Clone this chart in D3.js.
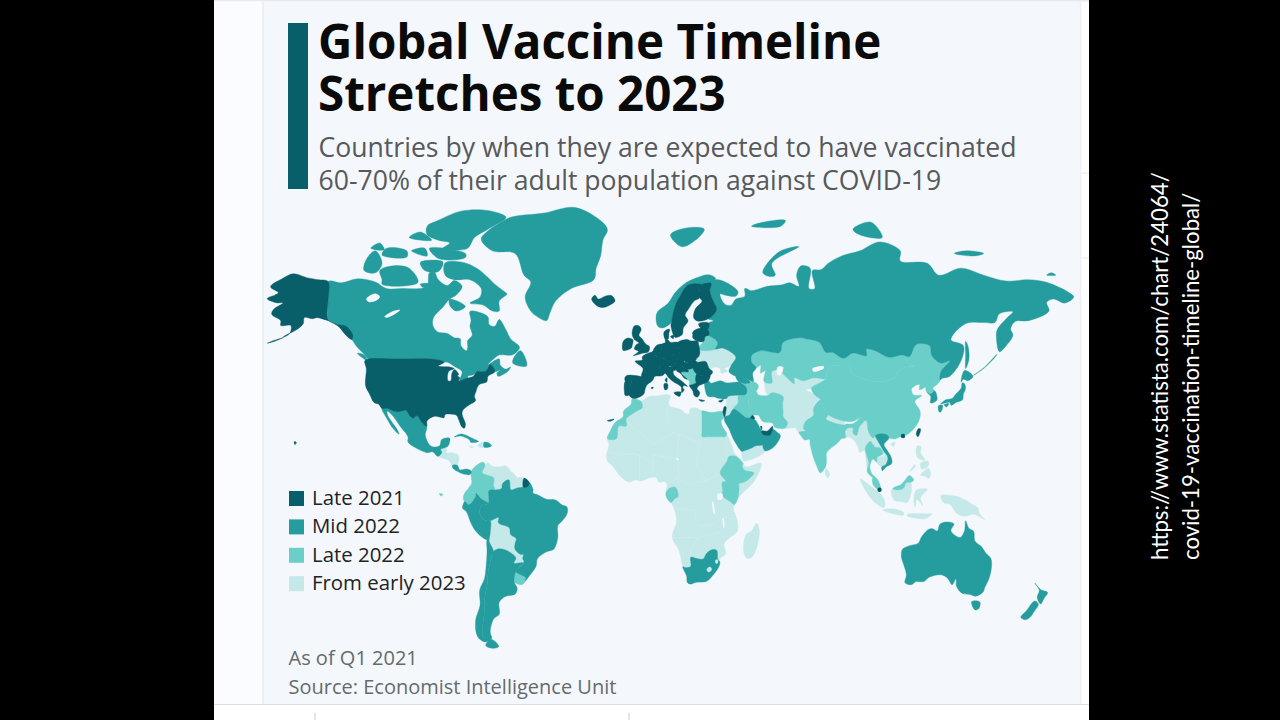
<!DOCTYPE html>
<html>
<head>
<meta charset="utf-8">
<script src="https://cdnjs.cloudflare.com/ajax/libs/d3/7.8.5/d3.min.js"></script>
<style>
  html, body { margin: 0; padding: 0; background: #000; }
  svg { display: block; }
  text { font-family: "Open Sans", sans-serif; }
</style>
</head>
<body>
<div id="chart"></div>
<script>
// legend
var legendLabels = ['Late 2021', 'Mid 2022', 'Late 2022', 'From early 2023'];
var legendColors = ['#085e69', '#259d9e', '#6bcfc9', '#c5e8e8'];

// outlines are [lon, lat]
// North America
var alaska = [[-141,69.6],[-145,70],[-150,70.4],[-156.5,71.3],[-161,70.3],[-166.5,68.4],[-163,67],[-164.5,66.5],[-168,65.6],[-164,64.6],[-161,64.5],[-165,63],[-166,61.7],[-162,60],[-162,58.7],[-157.5,58.7],[-158,56.5],[-161,55.4],[-160,55.9],[-155,57.5],[-152,59.2],[-151.5,60.8],[-148,60.5],[-146,60.8],[-141,60],[-139,59.5],[-136,58.3],[-133,56],[-130.5,54.8],[-130,56],[-133,58.5],[-137,59],[-141,60.3],[-141,65]];
var aleutians = [[-161,55.3],[-165,54.5],[-168,53.7],[-165,54.2]];
var hawaii = [[-156,20.2],[-155,19.8],[-155.7,19],[-156,19.7]];
var usa = [[-123,49],[-110,49],[-95,49],[-89.5,48],[-92,46.8],[-87,46.5],[-85,46],[-87.5,45],[-87.7,42],[-86.5,42],[-86,44.5],[-84.8,45.7],[-83,44],[-83.5,43.7],[-82.5,43],[-83,42],[-79,42.9],[-76.5,43.5],[-75,45],[-71,45.2],[-69,47.3],[-67,45],[-70,43.5],[-70.5,41.7],[-74,40.7],[-75.5,38],[-76,36.8],[-75.5,35.2],[-78,33.9],[-81,32],[-81.5,30.5],[-80,26.8],[-80.5,25.2],[-81.8,26],[-82.8,28],[-84,30],[-86,30.4],[-89,30.3],[-89.5,29.1],[-91,29.3],[-94,29.6],[-97,28],[-97.2,26],[-99.5,27.5],[-101.5,29.8],[-103,29],[-104.5,29.6],[-106.5,31.8],[-108.2,31.5],[-111,31.3],[-114.8,32.5],[-117.1,32.5],[-118.5,34],[-120.6,34.6],[-122.5,37.5],[-124.3,40.3],[-124,46],[-124.7,48.4]];
var canada = [[-141,69.6],[-135,69.3],[-128,70.2],[-120,69.5],[-115,68],[-108,68],[-100,68],[-97,68.5],[-96,71.5],[-94,71.8],[-92,70],[-88,68.7],[-85,69.8],[-81.5,68.5],[-84,66.5],[-87,65.5],[-90,63.5],[-94,61],[-94.5,58.8],[-92.5,57],[-88,56.5],[-85,55.3],[-82.3,55],[-82,53],[-79.5,51.5],[-79,52.5],[-79,54.5],[-77,56],[-78,58.5],[-77.5,60],[-78,62.4],[-74,62.2],[-70,61],[-69.5,59],[-67,58.5],[-65,60.3],[-62,57.5],[-60,55],[-56,52.5],[-59,50.3],[-65,50.2],[-67,49.3],[-70,47.2],[-65,49],[-64.5,47],[-62,45.8],[-60,46.5],[-61,45.2],[-65.5,43.5],[-66,44.5],[-64.5,45.5],[-67,45],[-69,47.3],[-71,45.2],[-75,45],[-76.5,44],[-79,43.5],[-79,42.9],[-82.5,42],[-81.5,45],[-84.5,46.5],[-88,48],[-89.5,48],[-95,49],[-110,49],[-123,49],[-125,50.5],[-128,52.5],[-130.5,54.8],[-133,56],[-136,58.3],[-139,59.5],[-141,60.3],[-141,65]];
var baffin = [[-61.5,66.7],[-65,65],[-65,62.5],[-68,62.5],[-72,64],[-78,64.5],[-73.5,66],[-73,68],[-78,70],[-85,70],[-89,71],[-89,73.6],[-81,73.7],[-75,72.5],[-70,70.5],[-67,69],[-62,67]];
var victoriaIsland = [[-117,69],[-105,68.7],[-101,69.5],[-105,72.5],[-112,73],[-118,72],[-117,70]];
var banks = [[-125,72],[-120,71.5],[-117,73.5],[-120,76],[-124,74.3]];
var ellesmere = [[-90,76.5],[-80,76.3],[-78,77],[-76,78.5],[-70,80],[-62,82],[-70,83.1],[-82,83],[-92,81.5],[-97,80.5],[-97,79],[-92,78],[-87,77.5]];
var devon = [[-96,76.5],[-80,75.5],[-80,74.7],[-92,74.5]];
var axelHeiberg = [[-96,80.2],[-88,79.5],[-88,78],[-93,78.5]];
var melville = [[-117,75.2],[-106,74.8],[-106,76],[-115,76.5]];
var somerset = [[-100,73.7],[-90,73.8],[-92,71.8],[-98,72]];
var bathurst = [[-104,76],[-97,75],[-98,76.5]];
var princePatrick = [[-122,76.5],[-116,76.2],[-118,77.5]];
var ringnes = [[-105,78.5],[-95,78],[-100,79.5]];
var kingWilliam = [[-100,69],[-95.5,69],[-96,68.2],[-99,68.3]];
var southampton = [[-87,65.5],[-80,63.7],[-84,62.5],[-87,64]];
var newfoundland = [[-59,47.7],[-53,46.7],[-52.8,48],[-55.5,51.5],[-57.5,50.5]];
var vancouver = [[-128,50.7],[-123.5,48.4],[-125,50.3]];
var greenland = [[-73,78.2],[-68,76],[-58,75.5],[-54,71],[-51,69.5],[-53.5,66],[-51,62.5],[-48,61],[-44,60],[-42.5,62],[-40,65],[-33,68],[-23,70],[-22,72.5],[-20,75],[-19,78],[-17,80],[-22,82],[-32,83.6],[-45,82.7],[-60,82],[-65,81],[-70,79.7]];
var iceland = [[-24,65.5],[-22,64],[-19,63.4],[-15,64.3],[-13.6,65],[-15,66.3],[-18,66.2],[-21,65.5],[-22.5,66.4]];
var mexico = [[-117.1,32.5],[-114.8,32.5],[-111,31.3],[-108.2,31.5],[-106.5,31.8],[-104.5,29.6],[-103,29],[-101.5,29.8],[-99.5,27.5],[-97.2,26],[-97.8,22.5],[-96,19],[-94.5,18.2],[-91.5,18.6],[-90.5,21],[-87,21.5],[-87.7,18.5],[-89,17.9],[-91,17.2],[-90.5,16],[-92.2,14.5],[-94.5,16.2],[-97,15.9],[-101.5,17.5],[-105.5,20],[-105.5,22],[-109,26],[-112.5,30],[-114.7,31.5],[-114.5,30],[-110,24.3],[-109.5,23],[-112,25],[-115,29]];
var centralNorth = [[-92.2,14.5],[-90.5,16],[-91,17.2],[-89,17.9],[-88.2,17],[-88.5,15.9],[-86,15.9],[-83.2,15],[-83.6,11],[-85.7,11],[-87.5,13],[-90,13.7]];
var costaPanama = [[-83.6,11],[-82.5,9.2],[-79.5,9.5],[-77.3,8.6],[-78,7.3],[-80.3,7.4],[-82.8,8.2],[-85.7,10],[-85.7,11]];
var cuba = [[-85,21.9],[-82,23.1],[-77,21.5],[-74.2,20.2],[-77.7,19.9],[-78,20.7],[-82,22.3]];
var haiti = [[-74.4,18.4],[-71.7,18],[-71.7,19.9],[-73,19.9]];
var dominicanRep = [[-71.7,18],[-68.4,18.5],[-70,19.8],[-71.7,19.9]];
var jamaica = [[-78.3,18.4],[-76.3,18.2],[-77.3,17.8]];

// South America
var colombia = [[-77.3,8.6],[-75.5,10.7],[-72,12.2],[-71.3,11],[-72.5,8],[-70,7],[-67.5,6.2],[-67.5,3],[-67,1.2],[-69.5,1],[-69.9,-4.2],[-72.9,-2.4],[-75,-0.1],[-77.5,0.4],[-78.8,1.4],[-77.2,4],[-77.5,7]];
var ecuador = [[-78.8,1.4],[-77.5,0.4],[-75.2,-0.1],[-75.5,-1.5],[-78.5,-4.7],[-80.3,-3.4],[-81,-2.2],[-80,0.5]];
var galapagos = [[-91.6,-0.3],[-90,-0.5],[-90.8,-1.2]];
var venezuela = [[-71.3,11],[-70,12],[-68,10.6],[-64,10.5],[-62,10.7],[-60,8.5],[-60.7,5.2],[-63.5,3.8],[-64,1.8],[-67,1.2],[-67.5,3],[-67.5,6.2],[-70,7],[-72.5,8]];
var guyana = [[-60,8.5],[-57.2,6],[-58,4],[-57,2],[-59.8,1.3],[-60.7,5.2]];
var suriname = [[-57.2,6],[-54,5.9],[-54.3,2.3],[-57,2],[-58,4]];
var frenchGuiana = [[-54,5.9],[-51.7,4.2],[-52.8,2.3],[-54.3,2.3]];
var brazil = [[-51.7,4.2],[-50,1.5],[-50,0],[-48,-0.7],[-44,-2.5],[-40,-2.8],[-37,-4.8],[-35,-5.5],[-34.8,-8],[-37,-11],[-39,-13],[-39,-17.5],[-40.8,-22],[-44,-23],[-48,-25.5],[-48.7,-28.5],[-52,-32.3],[-53.4,-33.7],[-53.3,-32.5],[-57.6,-30.2],[-54,-27],[-54.6,-25.5],[-54.3,-24],[-55.5,-24],[-58,-22],[-58,-20],[-57.5,-18],[-60,-16.3],[-60.5,-13.8],[-65.4,-11.8],[-65.3,-9.8],[-69,-11],[-70.6,-11],[-73,-9.4],[-73.7,-7.3],[-72.9,-5.2],[-69.9,-4.2],[-69.5,1],[-67,1.2],[-64,1.8],[-63.5,3.8],[-60.7,5.2],[-59.8,1.3],[-57,2],[-54.3,2.3],[-52.8,2.3]];
var peru = [[-81,-4.5],[-80.3,-3.4],[-78.5,-4.7],[-75.5,-1.5],[-75.2,-0.1],[-72.9,-2.4],[-69.9,-4.2],[-72.9,-5.2],[-73.7,-7.3],[-73,-9.4],[-70.6,-11],[-69,-11],[-69,-15.5],[-69.4,-17.5],[-70.4,-18.4],[-75,-15.5],[-77.5,-12],[-79.5,-7.5],[-81.3,-6]];
var bolivia = [[-69,-11],[-65.3,-9.8],[-65.4,-11.8],[-60.5,-13.8],[-60,-16.3],[-57.5,-18],[-58,-20],[-62.5,-22.2],[-66,-22],[-67.5,-22.9],[-69.5,-19],[-69.4,-17.5],[-69,-15.5]];
var paraguay = [[-58,-20],[-58,-22],[-55.5,-24],[-54.3,-24],[-54.6,-25.5],[-54.8,-27],[-58.5,-27.2],[-57.6,-25.3],[-62.5,-22.2]];
var argentina = [[-66,-22],[-62.5,-22.2],[-57.6,-25.3],[-58.5,-27.2],[-54.8,-27],[-54,-27],[-57.6,-30.2],[-58.4,-34],[-57,-36.3],[-58,-38.3],[-62,-39],[-65,-41],[-65,-45],[-67.5,-46.5],[-69,-50.5],[-68.4,-52.4],[-72,-52],[-72.5,-50],[-71.7,-45],[-71.5,-40],[-70.5,-36],[-70,-31],[-69,-27],[-68.3,-24.5],[-67.5,-22.9]];
var chile = [[-70.4,-18.4],[-69.4,-17.5],[-69.5,-19],[-67.5,-22.9],[-68.3,-24.5],[-69,-27],[-70,-31],[-70.5,-36],[-71.5,-40],[-71.7,-45],[-72.5,-50],[-72,-52],[-68.4,-52.4],[-71,-53.5],[-74.5,-52],[-75.5,-47],[-73.5,-42],[-73.7,-37],[-71.6,-33],[-71,-30],[-70.4,-23]];
var tierraDelFuego = [[-68.6,-52.7],[-65.2,-54.8],[-68,-55.3],[-71,-54.5]];
var uruguay = [[-57.6,-30.2],[-53.3,-32.5],[-53.4,-33.7],[-55,-35],[-58.4,-34]];

// Europe
var portugal = [[-9,41.9],[-6.5,41.9],[-7,39.5],[-7.4,37.2],[-9,37],[-9.5,38.8]];
var spain = [[-9.2,43.1],[-8,43.8],[-1.8,43.4],[3.2,42.4],[0.5,40.5],[-0.3,39],[-0.7,37.7],[-2,36.8],[-5.5,36],[-7.4,37.2],[-7,39.5],[-6.5,41.9],[-9,41.9]];
var balearics = [[2.3,39.6],[3.4,39.9],[3,39.3]];
var canaries = [[-17,28],[-14,28.6],[-15.8,27.8]];
var france = [[-1.8,43.4],[-1.2,46],[-4.7,48.3],[-1.5,48.7],[-1.5,49.7],[1.6,50.9],[2.6,51],[4.2,50],[6,49.5],[8.2,49],[7.6,47.6],[6,46.3],[7,45.8],[7.5,43.8],[4,43.4],[3.2,42.4]];
var belgium = [[2.6,51],[3.4,51.4],[6,51],[6,49.5],[4.2,50]];
var netherlands = [[3.4,51.4],[4.7,53],[7,53.4],[7,52],[6,51]];
var germany = [[6,51],[7,52],[7,53.4],[8.7,53.9],[8.7,54.9],[10,54.6],[11,54],[14.2,53.9],[14.7,52],[15,51],[12.2,50.3],[13.8,48.7],[13,47.5],[10,47.4],[7.6,47.6],[8.2,49],[6,49.5]];
var denmark = [[8.2,55.5],[8.2,57],[10.6,57.7],[10.3,56.5],[10,54.9],[8.7,54.9]];
var zealand = [[11,55.7],[12.5,56],[12.2,55]];
var switzerland = [[6,46.3],[7.6,47.6],[10,47.4],[10.4,46.5],[7,45.8]];
var austria = [[10,47.4],[13,47.5],[13.8,48.7],[17,48.7],[16.3,46.9],[13.5,46.5],[10.4,46.9]];
var italy = [[7,45.8],[10.4,46.5],[13.5,46.5],[13.7,45.6],[12.3,45.2],[12.5,44],[16,41.9],[18.5,40.1],[17,40.4],[16.5,39.7],[17.1,39],[16,38],[15.7,40],[12.3,41.7],[10.2,43],[8.7,44.4],[7.5,43.8]];
var sicily = [[12.5,38],[15.6,38.2],[15.1,36.7]];
var sardinia = [[8.2,41],[9.7,41],[9.6,39.2],[8.5,39]];
var corsica = [[8.6,42.3],[9.4,43],[9.4,41.5]];
var cyprus = [[32.3,35],[34.5,35.6],[33.5,34.7]];
var uk = [[-5,58.6],[-3,58.6],[-2,57.6],[-3,56],[-1.6,55],[0,53.5],[1.7,52.7],[1.2,51.2],[-1.5,50.7],[-5.5,50],[-3.2,51.3],[-5,52],[-4.2,53.3],[-3,53.8],[-5,54.8],[-6,56.3]];
var ireland = [[-10,54.2],[-8,55.2],[-5.7,54.7],[-6,53],[-6.5,52.2],[-10,51.6]];
var norway = [[5,59],[5,62],[10,64.5],[13,67],[17,69],[22,70.3],[28,71.1],[31,70.3],[29,69.2],[25,69],[21,69],[18,68.5],[15,66],[13.5,64.5],[12,61.5],[11.5,59.5],[10.5,59],[8,58.1],[6,58.2]];
var svalbard = [[11,79],[16,76.8],[22,78],[26,80],[18,80.2]];
var sweden = [[11.5,59.5],[12,61.5],[13.5,64.5],[15,66],[18,68.5],[21,69],[23.7,67.8],[24,65.8],[21.5,65],[19,63],[17.5,61.5],[18.8,60],[16.7,58],[16.3,56.3],[14.3,55.5],[13,55.4],[11.2,58.7]];
var finland = [[21,69],[25,69],[29,69.2],[28.5,67.5],[30,65],[31.5,62.9],[27.8,60.5],[23,59.9],[21.3,60.8],[22,63],[25,65],[24,65.8],[23.7,67.8]];
var estonia = [[23.5,59.2],[28,59.4],[27.5,57.6],[24.5,58]];
var latvia = [[21,57],[24.5,58],[27.5,57.6],[28,56.1],[21,56.1]];
var lithuania = [[21,56.1],[28,56.1],[26.5,55.7],[25.7,54.2],[23,54.3],[21,55.2]];
var poland = [[14.2,53.9],[18.5,54.8],[19.8,54.4],[23,54.3],[23.7,52.6],[24,50.5],[22.7,49.2],[19,49.4],[15,51],[14.7,52]];
var czechia = [[12.2,50.3],[15,51],[19,49.6],[17,48.7],[13.8,48.7]];
var slovakia = [[17,48.7],[19,49.5],[22.5,49.1],[22,48.4],[18.7,47.8]];
var hungary = [[16.3,46.9],[17,48],[18.7,47.8],[22,48.4],[21,46.2],[18.5,45.8],[16.6,46.4]];
var croatia = [[13.5,46.5],[16.3,46.9],[16.6,46.4],[18.5,45.8],[19,45],[15.8,44.8],[17,43],[18.5,42.5],[15,44.6],[13.7,45.2],[13.7,45.6]];
var balkans = [[15.8,44.8],[19,45],[18.5,45.8],[21,46.2],[22.7,44.2],[22.5,41.3],[21,40.8],[19.4,40.4],[19.4,41.8],[18.5,42.5],[17,43]];
var romania = [[21,46.2],[22,48.4],[23,48],[26.6,48.2],[28.2,46],[29.7,45],[28.6,43.8],[25,43.7],[22.7,44.2]];
var bulgaria = [[22.7,44.2],[25,43.7],[28.6,43.8],[27.8,42],[26.3,41.3],[22.5,41.3]];
var greece = [[19.4,40.4],[21,40.8],[22.5,41.3],[26.3,41.3],[23.5,40.3],[22.8,39.3],[24,38],[23,36.5],[21.5,37],[21,38.5]];
var crete = [[23.6,35.6],[26.2,35.2],[24.5,35]];
var moldova = [[26.6,48.2],[29,47.5],[30,46.4],[28.2,46]];
var ukraine = [[24,50.5],[24,51.8],[31,52],[34,52.3],[40,49.6],[38,47],[35,46],[36.5,45.3],[33.5,44.5],[33,46],[30.7,46.5],[30,46.4],[29,47.5],[26.6,48.2],[23,48],[22.5,49.1],[22.7,49.2]];
var belarus = [[23.7,52.6],[25.7,54.2],[26.5,55.7],[28,56.1],[31,54.8],[32,53.5],[31,52],[24,51.8]];

// Russia runs past 180 so Chukotka stays in one piece
var russia = [[29,69.2],[31,70],[36,69.3],[41,67.2],[40,66.2],[35,66.5],[33,66.7],[35,64.3],[38,64],[40,65.5],[44,66.2],[44,68],[47,67.5],[54,68.5],[60,68.8],[64,69.3],[68,68.5],[67,71],[69,73],[73,72.5],[72.5,68],[75,68],[74,72],[78,72.2],[81,73.5],[87,75],[95,76],[104,77.7],[113,76],[113,74],[125,73.5],[130,71],[140,72.5],[150,71],[160,69.7],[170,70],[178,69.4],[188,67],[190,66],[186,64.5],[181,65.5],[178,64.7],[179,62.5],[170,60],[164,59.8],[162,57.8],[163,56],[160,53],[157,51.2],[155.7,55],[156,57.5],[160,60.5],[163,62.3],[157,61.8],[155,59.5],[150,59.5],[142,59.2],[135.5,54.7],[141,53],[140,48.5],[135,43.5],[131.5,42.8],[130.7,42.3],[131,45],[135,48.4],[131,47.7],[127,50],[126,53],[120,53.3],[117,49.7],[114,50.2],[108,49.5],[102.5,51.3],[98,52],[98,50],[92,50.8],[87.8,49.2],[83,51],[80,51],[77,54],[71,55],[69,55.3],[61,54],[59.5,51],[51,51.5],[47,50],[47,48],[49,46.2],[47.5,44.5],[47.7,41.8],[44.7,42.7],[40,43.5],[37,45],[38,47],[40,49.6],[34,52.3],[31,52],[32,53.5],[31,54.8],[28,56.1],[27.5,57.6],[28,59.4],[30,60],[27.8,60.5],[31.5,62.9],[30,65],[28.5,67.5]];
var sakhalin = [[142,54.3],[143,53],[143.5,49],[142,46],[142,50]];
var kurils = [[145.5,43.8],[150,46],[155,49.5],[156,50.5],[150.5,46.5]];
var novayaZemlya = [[52,71.5],[55,70.7],[57.5,71],[56,73.5],[68,76.8],[60,76],[54,73.5]];
var franzJosef = [[47,80.5],[60,80.5],[62,81.5],[50,81]];
var severnaya = [[95,79],[105,78.5],[100,81.2],[92,80]];
var newSiberian = [[137,75.5],[146,75],[150,75.5],[142,76]];
var wrangel = [[178,71],[182,71],[180,71.5]];

// Middle East and Asia
var turkey = [[26.3,41.3],[27.8,42],[29,41.2],[33,42],[36,41.3],[41.5,41.5],[44.7,39.7],[44.5,37.5],[42,37.2],[36.5,36.7],[36,36],[32.5,36],[30.5,36.5],[27.5,36.8],[26.3,39.5]];
var georgia = [[40,43.5],[44.7,42.7],[46.5,41.5],[43.5,41.1],[41.5,41.5]];
var azerbaijan = [[43.5,41.1],[46.5,41.5],[47.7,41.8],[50,40.5],[49,38.5],[46,38.9],[44.7,39.7]];
var kazakhstan = [[47,50],[51,51.5],[59.5,51],[61,54],[69,55.3],[71,55],[77,54],[80,51],[83,51],[87.3,49],[85.5,47],[83,47],[80.5,45],[80,42.8],[74.5,43],[70,42],[66,43],[66,41],[62,43.5],[58.6,45.5],[56,45],[56,41.3],[52.5,41.8],[53,45.3],[51,44.5],[51,47],[49,46.2],[47,48]];
var centralAsia = [[53,42],[56,41.3],[56,45],[58.6,45.5],[62,43.5],[66,41],[66,43],[70,42],[74.5,43],[80,42.8],[74,40],[73.5,39.4],[71,39],[74.9,37.3],[71.5,36.4],[61,36.6],[56,38],[54,37.3]];
var afghanistan = [[61,36.6],[71.5,36.4],[74.9,37.3],[71,34],[69.5,31.5],[66,29.5],[61,29.6],[61,31.4],[60.8,34.3]];
var pakistan = [[74.9,37.3],[77.8,35.5],[74.5,32.5],[74.5,30],[71,27.8],[70,25],[71,24.3],[68,23.7],[66.5,25.3],[61.6,25.2],[63,27.2],[61,29.6],[66,29.5],[69.5,31.5],[71,34]];
var iran = [[44.7,39.7],[46,38.9],[49,38.5],[50,37.3],[54,37],[56,38],[61,36.6],[60.8,34.3],[61,31.4],[61,29.6],[63,27.2],[61.6,25.2],[57,25.8],[56.5,27],[52,27.7],[50,30],[48.5,30.2],[46,33],[45.5,36],[44.5,37.5]];
var iraq = [[42,37.2],[44.5,37.5],[45.5,36],[46,33],[48.5,30.2],[47.5,30],[46.5,29],[44.5,29.2],[39,32.2],[41,34.5],[41,36.6]];
var syria = [[36.5,36.7],[42,37.2],[41,36.6],[41,34.5],[39,32.2],[36,32.5],[35.8,35]];
var jordan = [[35.5,32.4],[36,32.5],[39,32.2],[37,30],[35,29.5]];
var israel = [[34.3,31.3],[35,33.2],[35.7,33],[35.5,31],[35,29.5]];
var kuwait = [[46.5,29],[47.5,30],[48.4,28.7]];
var saudi = [[35,29.5],[37,30],[39,32.2],[44.5,29.2],[46.5,29],[48.4,28.5],[50,26.5],[51.2,24.5],[55,22.7],[52,19],[49,18.6],[46.5,17.5],[43.2,16.5],[42.7,16.4],[39,21],[37,25],[35,28]];
var qatar = [[51,26],[51.6,25.9],[51.3,24.6]];
var uae = [[51.5,24.2],[54,24.2],[56.3,26],[56.4,24.9],[56,24],[55.2,22.7],[52,23]];
var oman = [[56,24],[56.4,24.9],[58.5,23.6],[59.8,22.5],[57.8,19],[55,17],[53,16.6],[52,19],[55,22.7]];
var yemen = [[42.7,16.4],[43.2,16.5],[46.5,17.5],[49,18.6],[52,19],[53,16.6],[49,14],[45,12.8],[43.5,12.7]];
var india = [[77.8,35.5],[79,32.5],[81,30.2],[80,28.7],[88,26.4],[89,26.8],[92,26.9],[96,29.3],[97,28],[95,26],[93.5,22.5],[92,23.5],[92,25.2],[89.8,25.3],[88.5,24],[88.7,21.6],[87,21.3],[85,19.5],[80.3,15.8],[80.3,13.3],[79.8,10.3],[77.5,8],[76,10.5],[74.3,14.5],[73,19],[72.7,21],[70.5,20.8],[69,22.3],[68,23.7],[71,24.3],[70,25],[71,27.8],[74.5,30],[74.5,32.5]];
var nepal = [[80,28.7],[81,30.2],[88,27.9],[88,26.4]];
var bangladesh = [[88.5,24],[89.8,25.3],[92,25.2],[92,23.5],[92.3,21],[90,22],[88.7,21.6]];
var sriLanka = [[80,9.7],[81.7,7.5],[80.7,6],[79.8,7.5]];
var china = [[73.5,39.4],[74,40],[80,42.8],[80.5,45],[83,47],[85.5,47],[87.3,49],[91,46.5],[91,45],[96,42.8],[105,41.7],[111.5,43.7],[112,45],[116,46.5],[119.5,46.7],[116,48],[116,49.8],[117,49.7],[120,53.3],[126,53],[127,50],[131,47.7],[135,48.4],[131,45],[130.7,42.3],[128,41.5],[124.4,40],[121.5,39],[121.5,40.8],[118,39.2],[119,37.2],[122.5,37],[119.5,35],[121.8,31.5],[121.5,28.5],[119,25],[116,22.8],[113.5,22.2],[110.5,21.2],[108,21.6],[106.5,23],[102,22.5],[101,21.5],[98.8,24.2],[98,28],[97,28],[96,29.3],[92,27.8],[88,27.9],[81,30.2],[79,32.5],[77.8,35.5],[74.9,37.3]];
var mongolia = [[87.3,49],[92,50.8],[98,50],[98,52],[102.5,51.3],[108,49.5],[114,50.2],[117,49.7],[116,49.8],[116,48],[119.5,46.7],[116,46.5],[112,45],[111.5,43.7],[105,41.7],[96,42.8],[91,45],[91,46.5]];
var hainan = [[108.7,19.3],[110.7,20],[110,18.3]];
var taiwan = [[121,25],[122,25],[120.9,22],[120.1,23]];
var northKorea = [[124.4,40],[128,41.5],[130.7,42.3],[129.7,41],[127.5,39.5],[128.3,38.6],[125,38]];
var southKorea = [[125,38],[126.5,37.7],[128.3,38.6],[129.4,36],[129,35.2],[126.5,34.4],[126.5,36.8]];
var honshu = [[130.9,34],[133,35.5],[136,36],[137.5,37.4],[140,39.5],[140.5,41.3],[141.5,41],[142,39.5],[141,37.5],[140.6,35.5],[138,34.7],[135.5,33.6],[135,34.6],[132.5,34.3]];
var hokkaido = [[140,41.5],[141.5,45.4],[145.3,43.5],[143,42],[141,42.5]];
var kyushu = [[130,33.5],[131.8,33.5],[131,31.2],[130.2,31.3]];
var shikoku = [[132.5,33.8],[134.6,34.2],[133.5,33]];
var vietnam = [[102,22.5],[106.5,23],[108,21.6],[105.8,19],[107,17],[109,14],[109.2,11.7],[106.8,10.4],[105,8.8],[104.8,10.4],[106.5,11.2],[107.5,14],[105.5,16.8],[104,19],[103,20.5]];
var laos = [[101,21.5],[102,22.5],[103,20.5],[104,19],[105.5,16.8],[107.5,14],[106,14.4],[105.3,15.5],[104,17.8],[102,18],[100.5,19.5]];
var cambodia = [[102.5,12.2],[102.7,14],[106,14.4],[107.5,14],[106.5,11.2],[104.8,10.4]];
var thailand = [[97.5,18],[100,20.3],[100.5,19.5],[102,18],[104,17.8],[105.3,15.5],[102.7,14],[102.5,12.2],[100.9,13.4],[99.5,10.5],[100.5,7.5],[102,6.2],[100.8,6.2],[98.3,8.5],[99,12],[98,15]];
var myanmar = [[92.3,21],[92,23.5],[93.5,22.5],[95,26],[97,28],[98,28],[98.8,24.2],[101,21.5],[100,20.3],[97.5,18],[98,15],[99,12],[98.3,10],[97.7,14],[97,16.7],[95,15.9],[94.3,18],[93,20]];
var malaysiaWest = [[100.8,6.2],[102,6.2],[103.5,4.5],[104.2,1.5],[103,1.5],[101,3.2]];
var malaysiaEast = [[109.6,1.7],[111.3,2.7],[113,3.2],[115,5],[117,7],[119,5.2],[117.5,4.2],[115.7,4.2],[114.5,2],[112,1.2]];
var kalimantan = [[109.6,1.7],[112,1.2],[114.5,2],[115.7,4.2],[117.5,4.2],[118,1],[116,-3.8],[114,-3.5],[110.5,-3],[109,0]];
var sumatra = [[95.3,5.6],[98,4],[101,2],[104,0],[106,-3],[105.8,-5.8],[102,-4],[99,-1],[97,2]];
var java = [[105.3,-6.8],[108,-6.3],[111,-6.5],[114.5,-7.8],[114.4,-8.7],[108,-7.8]];
var sulawesi = [[119.5,-5.5],[120.5,-2.7],[123,-5],[122,-2],[125,1.5],[120,1],[119,-3]];
var lesserSunda = [[116,-8.5],[125,-8.2],[127,-8.3],[124,-10.2],[120,-10],[116,-9]];
var papuaWest = [[131,-1],[134,-0.8],[141,-2.6],[141,-9],[138,-8],[135,-4.5],[132.5,-4]];
var papuaNewGuinea = [[141,-2.6],[145,-4.5],[147.5,-6],[148,-8],[150.5,-10.5],[146,-8.5],[143,-9],[141,-9]];
var luzon = [[120.5,18.5],[122.2,18.3],[122,16],[124,13],[121,13.7],[120,16]];
var visayas = [[122,11.8],[125.5,12.5],[125,10.2],[122.5,9.5]];
var mindanao = [[122,7],[125.5,9.7],[126.5,7.5],[125.5,5.8],[124,6.7]];
var palawan = [[117.3,8.5],[119.5,11.3],[119.7,10.5]];

// Oceania
var australia = [[113.7,-22.5],[114.2,-21.8],[117,-20.7],[121,-19.7],[122.3,-17.5],[125,-14.7],[127,-14],[129.5,-15],[130.5,-12.5],[133,-11.5],[136.8,-12.2],[135.5,-15],[139.5,-17.5],[141.5,-15],[142,-11],[143.5,-14],[145.5,-15],[146.2,-19],[149,-21],[151,-23.5],[153.2,-25.5],[153.5,-28.5],[152.5,-32.5],[150.5,-36],[149.8,-37.5],[146.5,-39],[144,-38.4],[140.5,-38],[138,-35.6],[137.7,-33],[136,-35],[134,-32.7],[131,-31.5],[126,-32.3],[123.5,-33.9],[120,-33.9],[118,-35],[115.1,-34.3],[115.7,-31.5],[114.2,-27],[113.5,-25]];
var tasmania = [[144.7,-40.8],[148.3,-40.9],[147.8,-43.2],[146,-43.5]];
var nzNorth = [[172.7,-34.4],[175.5,-36.8],[178.4,-37.7],[177,-39.5],[175.3,-41.6],[173.8,-39.3],[174.7,-37]];
var nzSouth = [[172.7,-40.6],[174.3,-41.7],[172.8,-43.7],[170.5,-46],[168.5,-46.7],[166.5,-45.9],[169,-43.8]];

// Africa: one base shape, the countries with another colour go on top
var africaBase = [[-5.9,35.8],[-2,35],[1,36.5],[5,36.9],[10,37.3],[11,36.8],[10.2,34.3],[11,33.2],[15,32.3],[19,30.4],[20,32.5],[23,32.5],[25,31.6],[29,31],[32,31.3],[34.3,31.3],[34.9,29.5],[33.5,28],[34,26],[36,23],[37.2,21],[38.5,18],[39.5,15.5],[43,12.5],[43.3,11.5],[44.5,10.4],[51.2,11.8],[50.8,9.3],[48,4.5],[42,-1],[39.5,-4.5],[39,-6.5],[40.5,-10.5],[40.7,-15],[37,-17.8],[34.8,-20],[35.5,-23.7],[33,-25.5],[32.9,-26.8],[32.5,-28.5],[30,-31.5],[27,-33.8],[22,-34.2],[20,-34.8],[18.5,-34.2],[18.2,-32],[16.5,-28.6],[14.8,-22.5],[11.8,-17.5],[13.7,-11],[12,-5],[9,-1],[9.5,3.5],[8.5,4.5],[6,4.3],[4.5,6.3],[1,5.8],[-2,4.8],[-4.5,5.2],[-7.5,4.4],[-11.5,6.9],[-13.3,9],[-15,11],[-16.8,12.5],[-17.4,14.7],[-16.3,19],[-17,21.3],[-16,23.7],[-14.5,26.2],[-13,27.7],[-10,29.5],[-9.8,31.5],[-6.5,34]];
var morocco = [[-5.9,35.8],[-2.2,35.1],[-1.5,32.7],[-3.5,31.7],[-8.7,28.7],[-8.7,27.7],[-13,27.7],[-10,29.5],[-9.8,31.5],[-6.5,34]];
var westernSahara = [[-13,27.7],[-8.7,27.7],[-8.7,26],[-12,26],[-13,21.3],[-17,21.3],[-16,23.7],[-14.5,26.2]];
var egypt = [[25,31.6],[29,31],[32,31.3],[34.3,31.3],[34.9,29.5],[33.5,28],[34,26],[36,23],[35,22],[33,22],[27,22],[25,22],[25,24],[25,30]];
var ethiopia = [[33,8],[36,12.5],[37,14.5],[40,14.5],[42.5,12.5],[43.3,11.5],[42.8,10.9],[44,9],[48,8],[45,5],[41.9,3.9],[39,3.5],[36,4.5],[35,5.5]];
var kenya = [[34,4.2],[36,4.5],[39,3.5],[41,3.9],[41,-1.7],[39.3,-4.6],[37.7,-3.5],[34,-1],[34.2,1]];
var gabon = [[9,-1],[9.5,1],[11.3,2.2],[13.3,2.2],[14.4,-1.5],[13,-2.2],[11.2,-3.8]];
var southAfrica = [[16.5,-28.6],[18,-28.9],[20,-28.4],[20,-25],[22.7,-25.5],[25.5,-25.7],[27,-23.6],[29.4,-22.2],[31.5,-22.4],[32,-25.8],[32.9,-26.8],[32.5,-28.5],[30,-31.5],[27,-33.8],[22,-34.2],[20,-34.8],[18.5,-34.2],[18.2,-32]];
var lesotho = [[27,-29.6],[28.5,-28.6],[29.4,-29.5],[28,-30.6]];
var eswatini = [[31,-26],[32,-26],[32,-27.3],[31,-27.3]];
var madagascar = [[49.3,-12],[50.5,-15.5],[47.5,-24.8],[45,-25.5],[43.5,-23],[44.5,-16.5],[47,-15]];

// faint borders inside the pale part of Africa
var africaBorders = [
  [[-8.7,27.7],[-4.8,25],[3.3,19],[12,23.5],[9.5,30],[10.2,34.3]],
  [[12,23.5],[15,23],[24,19.5],[25,22]],
  [[15,23],[13.5,13.7],[3.3,15],[3.3,11.7],[-2.8,15],[-5.5,15.5],[-12,15],[-16.3,16.5]],
  [[24,19.5],[22.5,11],[27,5],[33,8]],
  [[36,12.5],[36,22]],
  [[13.5,13.7],[14.5,10],[14.5,6],[9.5,3.5]],
  [[3.3,11.7],[2.7,6.3]],
  [[-2.8,15],[-2.8,9.5],[-2.8,5]],
  [[14.5,6],[18.5,3.5],[27,5]],
  [[13.7,-6],[22,-7],[22,-11],[24,-13],[30,-12.5],[34,-9.5]],
  [[11.8,-17.5],[23.5,-17.5],[33,-15.5]],
  [[23.5,-17.5],[20,-22],[20,-25]],
  [[34,-9.5],[40.5,-10.5]]
];

// lakes and inland seas on top of the land
var greatBear = [[-124,65.5],[-120,66.8],[-118,66],[-120,65],[-123,64.8]];
var greatSlave = [[-116,61],[-112,62.5],[-109,62.8],[-112,61.5],[-115,60.8]];
var aral = [[58.5,46.5],[61,46.5],[60,44],[58.5,44]];
var balkhash = [[74,46],[79,46.7],[79,46],[74.5,45]];
var victoriaLake = [[32,-0.3],[34,-0.3],[34,-2.5],[32,-2.7]];
var tanganyika = [[29.4,-3.5],[29.8,-3.5],[30.8,-8],[30.5,-8.6]];
var malawiLake = [[34.2,-10],[34.6,-10],[34.9,-14],[34.5,-13.5]];
var chadLake = [[13.5,13.7],[14.5,13.7],[14.5,12.8]];

var late2021 = [alaska, aleutians, hawaii, usa, iceland, portugal, spain, balearics, canaries, france, belgium, netherlands, germany, denmark, zealand, switzerland, austria, italy, sicily, sardinia, corsica, cyprus, uk, ireland, sweden, finland, estonia, latvia, lithuania, poland, czechia, slovakia, hungary, croatia, romania, bulgaria, greece, crete, israel, kuwait, qatar, uae, taiwan, frenchGuiana];
var mid2022 = [canada, baffin, victoriaIsland, banks, ellesmere, devon, axelHeiberg, melville, somerset, bathurst, princePatrick, ringnes, kingWilliam, southampton, newfoundland, vancouver, greenland, mexico, costaPanama, cuba, dominicanRep, brazil, peru, argentina, chile, tierraDelFuego, norway, svalbard, russia, sakhalin, kurils, novayaZemlya, franzJosef, severnaya, newSiberian, wrangel, turkey, georgia, saudi, oman, southKorea, honshu, hokkaido, kyushu, shikoku, vietnam, australia, tasmania, nzNorth, nzSouth, southAfrica];
var late2022 = [colombia, ecuador, galapagos, uruguay, balkans, belarus, azerbaijan, kazakhstan, iran, iraq, india, china, mongolia, northKorea, thailand, malaysiaWest, malaysiaEast, morocco, westernSahara, egypt, ethiopia, kenya, gabon];
var early2023 = [africaBase, madagascar, centralNorth, haiti, jamaica, venezuela, guyana, suriname, bolivia, paraguay, moldova, ukraine, centralAsia, afghanistan, pakistan, syria, jordan, yemen, nepal, bangladesh, sriLanka, hainan, laos, cambodia, myanmar, kalimantan, sumatra, java, sulawesi, lesserSunda, papuaWest, papuaNewGuinea, luzon, visayas, mindanao, palawan];
var lakes = [greatBear, greatSlave, aral, balkhash, victoriaLake, tanganyika, malawiLake, chadLake];
var cityDots = [[114.2,22.3],[103.8,1.3]];

// africaBase goes first, its overlays come later in the list
var tiers = [early2023, late2022, mid2022, late2021];
// lesotho and eswatini sit inside South Africa so they are redrawn after it
var onTop = [lesotho, eswatini];

var titleLines = ['Global Vaccine Timeline', 'Stretches to 2023'];
var subtitleLines = ['Countries by when they are expected to have vaccinated', '60-70% of their adult population against COVID-19'];
var noteLines = ['As of Q1 2021', 'Source: Economist Intelligence Unit'];
var urlLines = ['https://www.statista.com/chart/24064/', 'covid-19-vaccination-timeline-global/'];
var edgeTicks = [173, 258];

var cardColor = '#f4f8fc';

// Miller latitude, the picture is stretched a bit vertically against it
function miller(lat) {
  return 1.25 * Math.log(Math.tan(Math.PI / 4 + 0.4 * lat * Math.PI / 180));
}

var xScale = d3.scaleLinear().domain([-141, 104]).range([328, 880]);
var yScale = d3.scaleLinear().domain([0, 1]).range([493, 349]);

var ring = d3.line()
    .x(function(d) { return xScale(d[0]); })
    .y(function(d) { return yScale(miller(d[1])); });
var closedRing = d3.line()
    .x(function(d) { return xScale(d[0]); })
    .y(function(d) { return yScale(miller(d[1])); })
    .curve(d3.curveCatmullRomClosed.alpha(0.5));

var svg = d3.select('#chart').append('svg')
    .attr('width', 1280)
    .attr('height', 720);

// slide background
svg.append('rect').attr('x', 214).attr('y', 0).attr('width', 875).attr('height', 720).attr('fill', '#ffffff');
svg.append('rect').attr('x', 214).attr('y', 0).attr('width', 875).attr('height', 1.5).attr('fill', '#e8e8f0');
svg.append('rect').attr('x', 214).attr('y', 1.5).attr('width', 49).attr('height', 703).attr('fill', '#fafcff');
svg.append('rect').attr('x', 263).attr('y', 2).attr('width', 817).attr('height', 702).attr('fill', cardColor);
svg.append('line').attr('x1', 263).attr('x2', 263).attr('y1', 2).attr('y2', 704).attr('stroke', '#e9edf2').attr('stroke-width', 1.5);
svg.append('line').attr('x1', 1080.5).attr('x2', 1080.5).attr('y1', 2).attr('y2', 704).attr('stroke', '#eceff3').attr('stroke-width', 1.5);
svg.append('line').attr('x1', 214).attr('x2', 1089).attr('y1', 704.5).attr('y2', 704.5).attr('stroke', '#dcdfe2').attr('stroke-width', 1);
svg.selectAll('line.edge').data(edgeTicks).join('line')
    .attr('class', 'edge')
    .attr('x1', 1081).attr('x2', 1089)
    .attr('y1', function(d) { return d; })
    .attr('y2', function(d) { return d; })
    .attr('stroke', '#e6e8ea');
svg.append('line').attr('x1', 315).attr('x2', 315).attr('y1', 713).attr('y2', 720).attr('stroke', '#c9c9c9');
svg.append('line').attr('x1', 629).attr('x2', 629).attr('y1', 713).attr('y2', 720).attr('stroke', '#c9c9c9');

// header
svg.append('rect').attr('x', 288).attr('y', 23).attr('width', 20).attr('height', 166).attr('fill', legendColors[0]);
svg.append('text')
    .attr('font-size', 47.5)
    .attr('font-weight', 700)
    .attr('fill', '#0a0a0a')
    .selectAll('tspan').data(titleLines).join('tspan')
    .attr('x', 318)
    .attr('y', function(d, i) { return 59 + i * 52; })
    .text(function(d) { return d; });
svg.append('text')
    .attr('font-size', 26.6)
    .attr('fill', '#58595b')
    .selectAll('tspan').data(subtitleLines).join('tspan')
    .attr('x', 318.5)
    .attr('y', function(d, i) { return 157 + i * 33; })
    .text(function(d) { return d; });

// map
var map = svg.append('g');
tiers.forEach(function(shapes, t) {
  map.append('g').selectAll('path').data(shapes).join('path')
      .attr('d', closedRing)
      .attr('fill', legendColors[3 - t])
      .attr('stroke', legendColors[3 - t])
      .attr('stroke-width', 0.4);
});
map.append('g').selectAll('path').data(onTop).join('path')
    .attr('d', closedRing)
    .attr('fill', legendColors[3]);
map.append('g').selectAll('path').data(africaBorders).join('path')
    .attr('d', ring)
    .attr('fill', 'none')
    .attr('stroke', '#d6efef')
    .attr('stroke-width', 0.5);
map.append('g').selectAll('path').data(lakes).join('path')
    .attr('d', closedRing)
    .attr('fill', cardColor);
map.append('g').selectAll('circle').data(cityDots).join('circle')
    .attr('cx', function(d) { return xScale(d[0]); })
    .attr('cy', function(d) { return yScale(miller(d[1])); })
    .attr('r', 2.2)
    .attr('fill', legendColors[0]);

// legend
var legend = svg.append('g').selectAll('g').data(legendLabels).join('g')
    .attr('transform', function(d, i) { return 'translate(289,' + (491 + i * 28.4) + ')'; });
legend.append('rect')
    .attr('width', 15)
    .attr('height', 15)
    .attr('fill', function(d, i) { return legendColors[i]; });
legend.append('text')
    .attr('x', 23)
    .attr('y', 14)
    .attr('font-size', 20.4)
    .attr('fill', '#222222')
    .text(function(d) { return d; });

// footer
svg.selectAll('text.note').data(noteLines).join('text')
    .attr('class', 'note')
    .attr('x', 288.5)
    .attr('y', function(d, i) { return 665 + i * 29; })
    .attr('font-size', 20)
    .attr('fill', '#666a6e')
    .text(function(d) { return d; });

// url written up the right side of the slide
svg.selectAll('text.url').data(urlLines).join('text')
    .attr('class', 'url')
    .attr('transform', function(d, i) { return 'translate(' + (1168 + i * 31) + ',560) rotate(-90)'; })
    .attr('font-size', 22.2)
    .attr('fill', '#ffffff')
    .style('font-family', 'Lato, sans-serif')
    .text(function(d) { return d; });
</script>
</body>
</html>
